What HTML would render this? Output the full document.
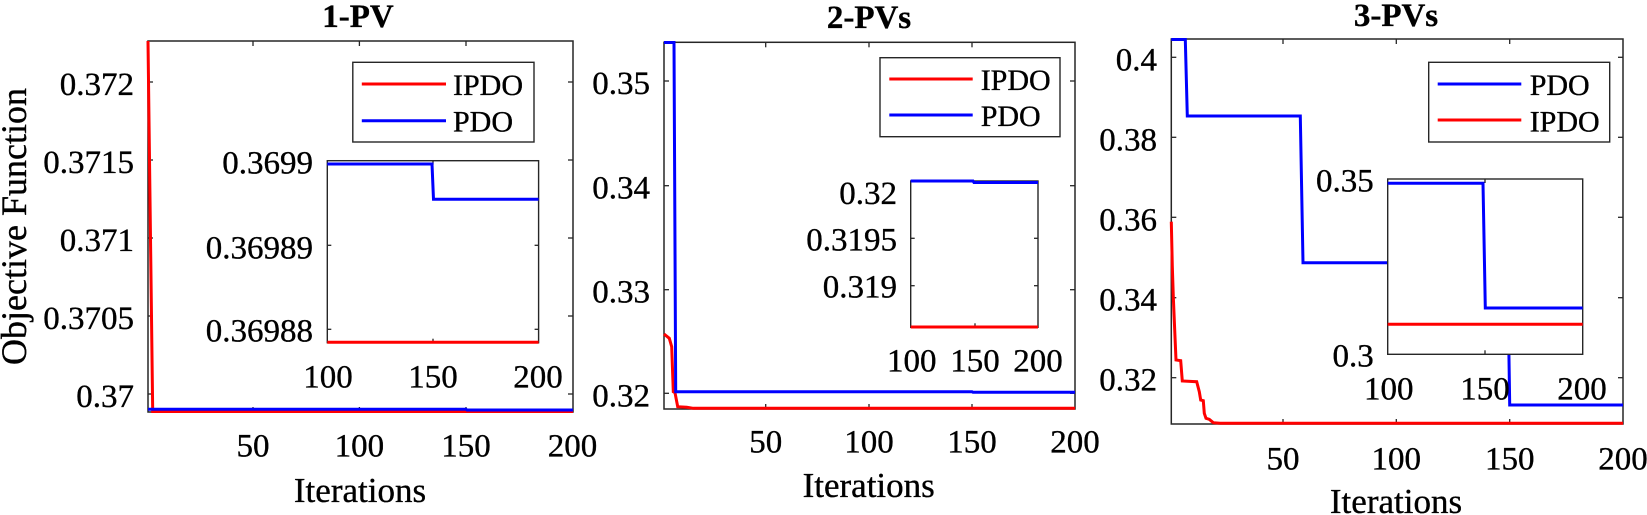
<!DOCTYPE html>
<html>
<head>
<meta charset="utf-8">
<style>
  html, body { margin: 0; padding: 0; background: #fff; }
  svg { display: block; }
  text { font-family: "Liberation Serif", "Times New Roman", serif; fill: #000; stroke: #000; stroke-width: 0.35px; }
</style>
</head>
<body>
<svg width="1647" height="515" viewBox="0 0 1647 515" xmlns="http://www.w3.org/2000/svg">
  <rect x="0" y="0" width="1647" height="515" fill="#fff"/>

  <!-- ================= PANEL 1 ================= -->
  <text x="358" y="27" font-size="33" font-weight="bold" text-anchor="middle">1-PV</text>
  <rect x="148" y="41" width="425" height="371" fill="#fff" stroke="#262626" stroke-width="1.5"/>
  <g stroke="#262626" stroke-width="1.3">
    <line x1="253" y1="412" x2="253" y2="407"/><line x1="359.4" y1="412" x2="359.4" y2="407"/><line x1="466" y1="412" x2="466" y2="407"/>
    <line x1="253" y1="41" x2="253" y2="46"/><line x1="359.4" y1="41" x2="359.4" y2="46"/><line x1="466" y1="41" x2="466" y2="46"/>
    <line x1="148" y1="82" x2="153" y2="82"/><line x1="148" y1="160" x2="153" y2="160"/><line x1="148" y1="238" x2="153" y2="238"/><line x1="148" y1="316" x2="153" y2="316"/><line x1="148" y1="394" x2="153" y2="394"/>
    <line x1="573" y1="82" x2="568" y2="82"/><line x1="573" y1="160" x2="568" y2="160"/><line x1="573" y1="238" x2="568" y2="238"/><line x1="573" y1="316" x2="568" y2="316"/><line x1="573" y1="394" x2="568" y2="394"/>
  </g>
  <polyline points="148,41 152.7,411.5 573,411.5" fill="none" stroke="#ff0000" stroke-width="3"/>
  <polyline points="148,409.2 466,409.2 467,410 573,410" fill="none" stroke="#0000ff" stroke-width="3"/>
  <g font-size="33" text-anchor="end">
    <text x="134" y="95">0.372</text>
    <text x="134" y="173">0.3715</text>
    <text x="134" y="251">0.371</text>
    <text x="134" y="329">0.3705</text>
    <text x="134" y="407">0.37</text>
  </g>
  <g font-size="33" text-anchor="middle">
    <text x="253" y="456.7">50</text>
    <text x="359.4" y="456.7">100</text>
    <text x="466" y="456.7">150</text>
    <text x="572.5" y="456.7">200</text>
  </g>
  <text x="360" y="502" font-size="35" text-anchor="middle">Iterations</text>
  <text transform="translate(26,226.5) rotate(-90)" font-size="36" text-anchor="middle">Objective Function</text>
  <rect x="352.8" y="62.3" width="181.2" height="79.7" fill="#fff" stroke="#262626" stroke-width="1.4"/>
  <line x1="361.8" y1="84" x2="446" y2="84" stroke="#ff0000" stroke-width="3"/>
  <line x1="361.8" y1="120.7" x2="446" y2="120.7" stroke="#0000ff" stroke-width="3"/>
  <text x="453" y="95" font-size="30">IPDO</text>
  <text x="453" y="131.7" font-size="30">PDO</text>
  <rect x="327.3" y="160.7" width="211.3" height="182" fill="#fff" stroke="#262626" stroke-width="1.4"/>
  <g stroke="#262626" stroke-width="1.3">
    <line x1="327.3" y1="245.3" x2="331.3" y2="245.3"/><line x1="327.3" y1="329.3" x2="331.3" y2="329.3"/>
    <line x1="538.6" y1="245.3" x2="534.6" y2="245.3"/><line x1="538.6" y1="329.3" x2="534.6" y2="329.3"/>
    <line x1="433" y1="342.7" x2="433" y2="338.7"/><line x1="433" y1="160.7" x2="433" y2="164.7"/>
  </g>
  <polyline points="327.3,342.3 538.6,342.3" fill="none" stroke="#ff0000" stroke-width="3"/>
  <polyline points="327.3,164 432,164 433.5,199.3 538.6,199.3" fill="none" stroke="#0000ff" stroke-width="3"/>
  <g font-size="33" text-anchor="end">
    <text x="313" y="173.3">0.3699</text>
    <text x="313" y="258.3">0.36989</text>
    <text x="313" y="341.7">0.36988</text>
  </g>
  <g font-size="33" text-anchor="middle">
    <text x="328" y="387.3">100</text>
    <text x="433" y="387.3">150</text>
    <text x="538" y="387.3">200</text>
  </g>

  <!-- ================= PANEL 2 ================= -->
  <text x="869" y="28" font-size="33" font-weight="bold" text-anchor="middle">2-PVs</text>
  <rect x="664" y="42.3" width="411" height="366.7" fill="#fff" stroke="#262626" stroke-width="1.5"/>
  <g stroke="#262626" stroke-width="1.3">
    <line x1="765.7" y1="409" x2="765.7" y2="404"/><line x1="869" y1="409" x2="869" y2="404"/><line x1="972" y1="409" x2="972" y2="404"/>
    <line x1="765.7" y1="42.3" x2="765.7" y2="47.3"/><line x1="869" y1="42.3" x2="869" y2="47.3"/><line x1="972" y1="42.3" x2="972" y2="47.3"/>
    <line x1="664" y1="81" x2="669" y2="81"/><line x1="664" y1="185.7" x2="669" y2="185.7"/><line x1="664" y1="289.7" x2="669" y2="289.7"/><line x1="664" y1="393.3" x2="669" y2="393.3"/>
    <line x1="1075" y1="81" x2="1070" y2="81"/><line x1="1075" y1="185.7" x2="1070" y2="185.7"/><line x1="1075" y1="289.7" x2="1070" y2="289.7"/><line x1="1075" y1="393.3" x2="1070" y2="393.3"/>
  </g>
  <polyline points="664,334 669.3,338.3 671.7,346.7 673.3,391.7 675,392.7 677.7,406.7 686.7,407.3 693.3,408.3 1075,408.3" fill="none" stroke="#ff0000" stroke-width="3"/>
  <polyline points="664,42.5 674,42.5 675.7,391.7 972,391.7 973,392.3 1075,392.3" fill="none" stroke="#0000ff" stroke-width="3"/>
  <g font-size="33" text-anchor="end">
    <text x="650" y="94">0.35</text>
    <text x="650" y="198.7">0.34</text>
    <text x="650" y="302.7">0.33</text>
    <text x="650" y="406.3">0.32</text>
  </g>
  <g font-size="33" text-anchor="middle">
    <text x="765.7" y="452.5">50</text>
    <text x="869" y="452.5">100</text>
    <text x="972" y="452.5">150</text>
    <text x="1075" y="452.5">200</text>
  </g>
  <text x="868.7" y="497" font-size="35" text-anchor="middle">Iterations</text>
  <rect x="880" y="57.7" width="180" height="79" fill="#fff" stroke="#262626" stroke-width="1.4"/>
  <line x1="889.3" y1="79" x2="972.7" y2="79" stroke="#ff0000" stroke-width="3"/>
  <line x1="889.3" y1="115" x2="972.7" y2="115" stroke="#0000ff" stroke-width="3"/>
  <text x="980.7" y="90" font-size="30">IPDO</text>
  <text x="980.7" y="126" font-size="30">PDO</text>
  <rect x="910.7" y="181" width="127.3" height="146.3" fill="#fff" stroke="#262626" stroke-width="1.4"/>
  <g stroke="#262626" stroke-width="1.3">
    <line x1="910.7" y1="238.3" x2="914.7" y2="238.3"/><line x1="910.7" y1="285.7" x2="914.7" y2="285.7"/>
    <line x1="1038" y1="238.3" x2="1034" y2="238.3"/><line x1="1038" y1="285.7" x2="1034" y2="285.7"/>
    <line x1="975" y1="327.3" x2="975" y2="323.3"/>
  </g>
  <polyline points="910.7,327 1038,327" fill="none" stroke="#ff0000" stroke-width="3"/>
  <polyline points="910.7,181 973,181 974,182.5 1038,182.5" fill="none" stroke="#0000ff" stroke-width="3"/>
  <g font-size="33" text-anchor="end">
    <text x="897" y="204">0.32</text>
    <text x="897" y="250.7">0.3195</text>
    <text x="897" y="297.7">0.319</text>
  </g>
  <g font-size="33" text-anchor="middle">
    <text x="911.7" y="371.7">100</text>
    <text x="975" y="371.7">150</text>
    <text x="1038" y="371.7">200</text>
  </g>

  <!-- ================= PANEL 3 ================= -->
  <text x="1396" y="26" font-size="33" font-weight="bold" text-anchor="middle">3-PVs</text>
  <rect x="1171.3" y="39" width="451.7" height="385" fill="#fff" stroke="#262626" stroke-width="1.5"/>
  <g stroke="#262626" stroke-width="1.3">
    <line x1="1283" y1="424" x2="1283" y2="419"/><line x1="1396.3" y1="424" x2="1396.3" y2="419"/><line x1="1509.7" y1="424" x2="1509.7" y2="419"/>
    <line x1="1283" y1="39" x2="1283" y2="44"/><line x1="1396.3" y1="39" x2="1396.3" y2="44"/><line x1="1509.7" y1="39" x2="1509.7" y2="44"/>
    <line x1="1171.3" y1="57.3" x2="1176.3" y2="57.3"/><line x1="1171.3" y1="137.3" x2="1176.3" y2="137.3"/><line x1="1171.3" y1="217.3" x2="1176.3" y2="217.3"/><line x1="1171.3" y1="297.7" x2="1176.3" y2="297.7"/><line x1="1171.3" y1="377.7" x2="1176.3" y2="377.7"/>
    <line x1="1623" y1="57.3" x2="1618" y2="57.3"/><line x1="1623" y1="137.3" x2="1618" y2="137.3"/><line x1="1623" y1="217.3" x2="1618" y2="217.3"/><line x1="1623" y1="297.7" x2="1618" y2="297.7"/><line x1="1623" y1="377.7" x2="1618" y2="377.7"/>
  </g>
  <polyline points="1171.3,39.5 1185.3,39.5 1187.3,116 1300.3,116 1303,262.7 1507.5,262.7 1509.7,405 1623,405" fill="none" stroke="#0000ff" stroke-width="3"/>
  <polyline points="1171.3,221.7 1172.3,266 1173.3,296.7 1174.7,330 1176,360 1180.7,360.7 1182.3,381 1196.7,381.7 1199.3,391.7 1200.7,400 1203.3,400.7 1204.3,413.3 1206,418.3 1209.3,419.3 1213.3,422.7 1220,423.3 1623,423.3" fill="none" stroke="#ff0000" stroke-width="3"/>
  <g font-size="33" text-anchor="end">
    <text x="1157" y="70.3">0.4</text>
    <text x="1157" y="150.3">0.38</text>
    <text x="1157" y="230.3">0.36</text>
    <text x="1157" y="310.7">0.34</text>
    <text x="1157" y="390.7">0.32</text>
  </g>
  <rect x="1428.7" y="62.3" width="181" height="79.7" fill="#fff" stroke="#262626" stroke-width="1.4"/>
  <line x1="1437.7" y1="84" x2="1521.3" y2="84" stroke="#0000ff" stroke-width="3"/>
  <line x1="1437.7" y1="120" x2="1521.3" y2="120" stroke="#ff0000" stroke-width="3"/>
  <text x="1529.7" y="95" font-size="30">PDO</text>
  <text x="1529.7" y="131.7" font-size="30">IPDO</text>
  <rect x="1387.7" y="179" width="195" height="175.3" fill="#fff" stroke="#262626" stroke-width="1.4"/>
  <g stroke="#262626" stroke-width="1.3">
    <line x1="1485" y1="354.3" x2="1485" y2="350.3"/><line x1="1485" y1="179" x2="1485" y2="183"/>
  </g>
  <polyline points="1387.7,183.3 1483,183.3 1485.3,308 1582.7,308" fill="none" stroke="#0000ff" stroke-width="3"/>
  <polyline points="1387.7,324.3 1582.7,324.3" fill="none" stroke="#ff0000" stroke-width="3"/>
  <g font-size="33" text-anchor="end">
    <text x="1373.7" y="191.7">0.35</text>
    <text x="1373.7" y="366.7">0.3</text>
  </g>
  <g font-size="33" text-anchor="middle">
    <text x="1388.7" y="399.3">100</text>
    <text x="1485" y="399.3">150</text>
    <text x="1582" y="399.3">200</text>
  </g>
  <g font-size="33" text-anchor="middle">
    <text x="1283" y="469.3">50</text>
    <text x="1396.3" y="469.3">100</text>
    <text x="1509.7" y="469.3">150</text>
    <text x="1623" y="469.3">200</text>
  </g>
  <text x="1396" y="513" font-size="35" text-anchor="middle">Iterations</text>
</svg>
</body>
</html>
